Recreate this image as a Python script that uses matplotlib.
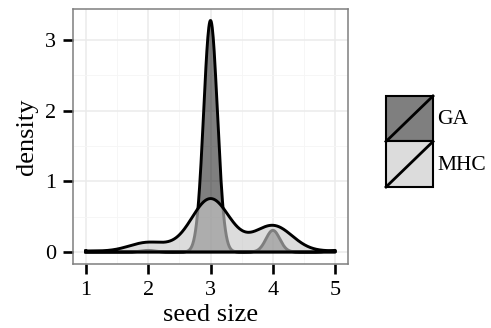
import numpy as np
import matplotlib.pyplot as plt
from matplotlib.patches import Rectangle
from matplotlib.lines import Line2D

plt.rcParams['font.family'] = ['Liberation Serif', 'DejaVu Serif']

# seed size observations (counts per size) for each algorithm
sizes = np.array([1, 2, 3, 4, 5])
ga_counts = np.array([0, 1, 150, 14, 1])
mhc_counts = np.array([2, 21, 117, 58, 2])
groups = ['GA', 'MHC']
bandwidths = {'GA': 0.11, 'MHC': 0.31}
xticks = [1, 2, 3, 4, 5]
yticks = [0, 1, 2, 3]


def kde(counts, bw, grid):
    # gaussian kernel density of weighted values, like geom_density
    w = counts / counts.sum()
    z = (grid[:, None] - sizes[None, :]) / bw
    return (w * np.exp(-0.5 * z**2)).sum(axis=1) / (bw * np.sqrt(2 * np.pi))


grid = np.linspace(sizes.min(), sizes.max(), 512)
dens = {'GA': kde(ga_counts, bandwidths['GA'], grid),
        'MHC': kde(mhc_counts, bandwidths['MHC'], grid)}

fills = {'GA': ((0, 0, 0), 0.5), 'MHC': ((0.785, 0.785, 0.785), 0.637)}

fig = plt.figure(figsize=(4.91, 3.28), dpi=100)
ax = fig.add_axes([0.1493, 0.1966, 0.7082 - 0.1493, 0.9726 - 0.1966])

for g in groups:
    col, a = fills[g]
    xs = np.concatenate([grid, [grid[-1], grid[0], grid[0]]])
    ys = np.concatenate([dens[g], [0, 0, dens[g][0]]])
    ax.fill(xs, ys, color=col, alpha=a, lw=0, zorder=2)
    ax.plot(xs, ys, color='black', lw=2.1, solid_joinstyle='round', zorder=2)

ymax = max(d.max() for d in dens.values())
ax.set_xlim(0.8, 5.2)
ax.set_ylim(-0.05 * ymax, 1.05 * ymax)
ax.set_xticks(xticks)
ax.set_yticks(yticks)
ax.set_xticks(np.arange(1.5, 5, 1), minor=True)
ax.set_yticks(np.arange(0.5, 3.5, 1), minor=True)
ax.grid(which='major', color='#ebebeb', lw=1.1, zorder=0)
ax.grid(which='minor', color='#f5f5f5', lw=0.6, zorder=0)
ax.set_axisbelow(True)
ax.tick_params(which='major', length=7.5, width=1.9, color='black',
               labelsize=16, pad=5)
ax.tick_params(which='minor', length=0)
for s in ax.spines.values():
    s.set_color('#7f7f7f')
    s.set_linewidth(1.1)

ax.set_xlabel('seed size', fontsize=19, va='top')
ax.set_ylabel('density', fontsize=19, va='center')
ax.xaxis.set_label_coords(0.5, -0.16)
ax.yaxis.set_label_coords(-0.17, 0.5)

# legend
lax = fig.add_axes([386 / 491, 1 - 187 / 328, 47 / 491, 91 / 328])
lax.set_xlim(0, 1)
lax.set_ylim(0, 2)
lax.axis('off')
for i, g in enumerate(groups):
    col, a = fills[g]
    y0 = 1 - i
    lax.add_patch(Rectangle((0, y0), 1, 1, facecolor='white', edgecolor='none'))
    lax.add_patch(Rectangle((0, y0), 1, 1, facecolor=col, alpha=a, edgecolor='none'))
    lax.add_patch(Rectangle((0, y0), 1, 1, facecolor='none', edgecolor='black',
                            lw=1.5, clip_on=False))
    lax.add_line(Line2D([0, 1], [y0, y0 + 1], color='black', lw=2.0, clip_on=False))
    fig.text(437 / 491, 1 - (119 + 46 * i) / 328, g, fontsize=15.5,
             ha='left', va='center')

fig.savefig('out.png', dpi=100)
